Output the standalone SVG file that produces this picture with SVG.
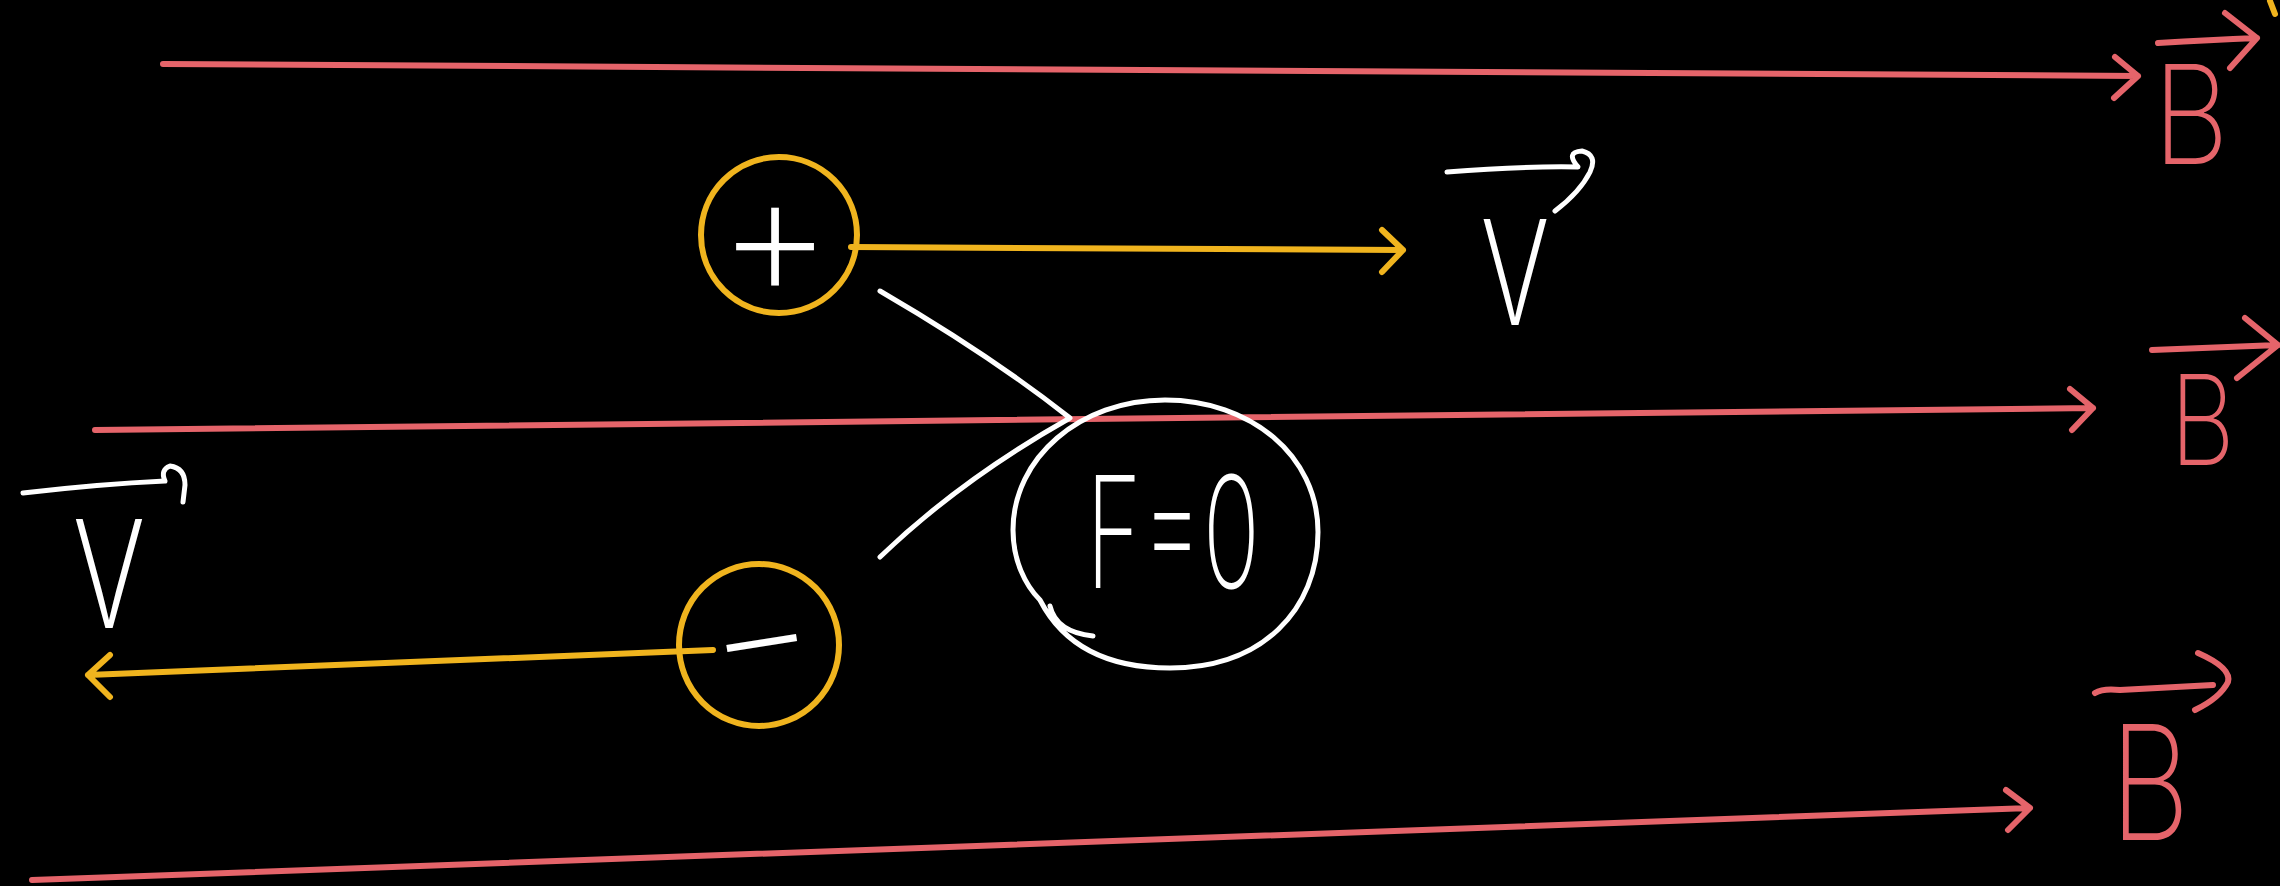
<svg xmlns="http://www.w3.org/2000/svg" width="2280" height="886" viewBox="0 0 2280 886">
<style>
.red{fill:none;stroke:#E5646A;stroke-width:6;stroke-linecap:round;stroke-linejoin:round}
.yel{fill:none;stroke:#F0B41E;stroke-width:6;stroke-linecap:round;stroke-linejoin:round}
.wht{fill:none;stroke:#FFFFFF;stroke-width:5;stroke-linecap:round;stroke-linejoin:round}
.tw{fill:#FFFFFF;font-family:Inter,Lato,"DejaVu Sans",sans-serif;font-weight:200}
.tr{fill:#E5646A;font-family:Inter,Lato,"DejaVu Sans",sans-serif;font-weight:200}
</style>
<rect x="0" y="0" width="2280" height="886" fill="#000000"/>
<g id="connectors">
  <path class="red" d="M163,64 L2138,76 M2115,57 L2138,76 L2114,98"/>
  <path class="red" d="M95,430 L2093,408 M2070,389 L2093,408 L2072,430"/>
  <path class="red" d="M32,880 L2030,808 M2006,790 L2030,808 L2008,830"/>
  <path class="yel" d="M851,247 L1403,250 M1382,230 L1403,250 L1382,272"/>
  <path class="yel" d="M713,650 L88,675 M110,655 L88,675 L110,697"/>
  <path class="wht" d="M880,291 Q990,355 1070,418 Q960,480 880,557"/>
  <path class="yel" d="M2270,1 L2275,14"/>
</g>
<g id="plus-charge">
  <circle class="yel" cx="779" cy="235" r="78"/>
  <text class="tw" x="775" y="298" font-size="180" text-anchor="middle">+</text>
</g>
<g id="minus-charge">
  <ellipse class="yel" cx="759" cy="645" rx="80" ry="81"/>
  <text class="tw" x="760" y="690" font-size="165" text-anchor="middle" transform="rotate(-9 760 632)">−</text>
</g>
<g id="v-top">
  <path class="wht" d="M1447,172 Q1520,166 1578,167 Q1565,152 1582,151 Q1598,155 1590,172 Q1580,192 1555,211"/>
  <text class="tw" x="1478" y="325" font-size="195" textLength="74" lengthAdjust="spacingAndGlyphs">v</text>
</g>
<g id="v-left">
  <path class="wht" d="M23,493 Q100,484 165,481 Q160,470 170,466 Q185,468 185,485 L183,502"/>
  <text class="tw" x="70" y="628" font-size="200" textLength="78" lengthAdjust="spacingAndGlyphs">v</text>
</g>
<g id="force-zero">
  <path class="wht" d="M1040,600 Q1075,668 1170,668 C1262,668 1318,610 1318,532 C1318,455 1250,400 1165,400 C1080,400 1013,458 1013,530 C1013,560 1025,585 1040,600 M1050,606 Q1056,632 1093,636"/>
  <text class="tw" x="1086" y="588" font-size="155" textLength="174" lengthAdjust="spacingAndGlyphs">F=0</text>
</g>
<g id="B-top">
  <path class="red" d="M2158,43 Q2210,40 2257,38 M2225,13 L2257,38 L2230,68"/>
  <text class="tr" x="2153" y="164" font-size="137" textLength="76" lengthAdjust="spacingAndGlyphs">B</text>
</g>
<g id="B-middle">
  <path class="red" d="M2152,350 L2278,345 M2245,318 L2278,345 L2237,378"/>
  <text class="tr" x="2170" y="465" font-size="125" textLength="65" lengthAdjust="spacingAndGlyphs">B</text>
</g>
<g id="B-bottom">
  <path class="red" d="M2095,693 Q2103,688 2120,690 L2213,685 M2198,653 Q2232,668 2228,682 Q2220,698 2195,710"/>
  <text class="tr" x="2110" y="840" font-size="160" textLength="80" lengthAdjust="spacingAndGlyphs">B</text>
</g>
</svg>
